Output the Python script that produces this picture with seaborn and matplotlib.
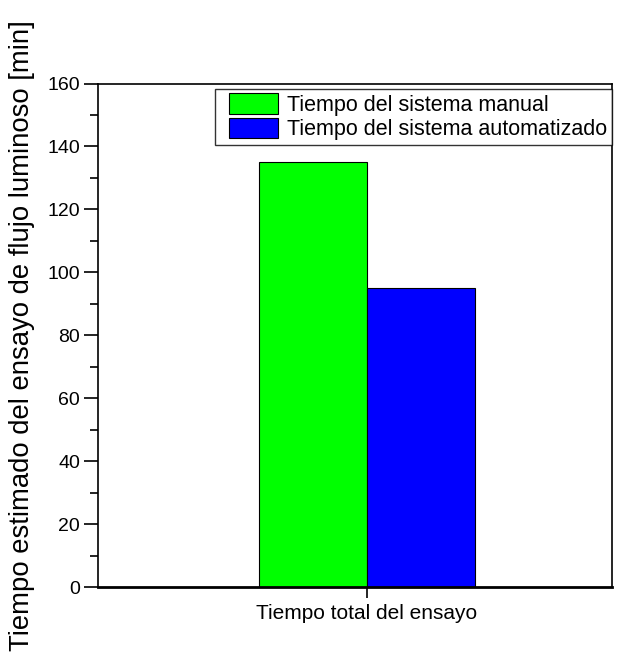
import matplotlib
matplotlib.use("Agg")
import matplotlib.pyplot as plt
import seaborn as sns
import pandas as pd
from matplotlib.ticker import MultipleLocator
from matplotlib.patches import Patch
from matplotlib.legend_handler import HandlerPatch

categoria = ["Tiempo total del ensayo"]
series = ["Tiempo del sistema manual", "Tiempo del sistema automatizado"]
valores = [135, 95]
colores = ["#00ff00", "#0000ff"]

df = pd.DataFrame({
    "categoria": categoria * len(series),
    "serie": series,
    "valor": valores,
})

sns.set_theme(style="white")
plt.rcParams["font.family"] = ["Liberation Sans", "DejaVu Sans"]
plt.rcParams["text.color"] = "black"
plt.rcParams["axes.labelcolor"] = "black"
plt.rcParams["xtick.color"] = "black"
plt.rcParams["ytick.color"] = "black"

fig = plt.figure(figsize=(6.33, 6.55), dpi=100)
ax = fig.add_axes([0.1548, 0.1038, 0.812, 0.7687])

sns.barplot(data=df, x="categoria", y="valor", hue="serie",
            palette=colores, edgecolor="black", linewidth=0.8,
            width=0.8, ax=ax, saturation=1)

ax.set_xlim(-0.996, 0.907)
ax.set_ylim(0, 160)
ax.yaxis.set_major_locator(MultipleLocator(20))
ax.yaxis.set_minor_locator(MultipleLocator(10))
ax.tick_params(axis="y", which="major", direction="out", length=10, width=1.2,
               labelsize=14, labelcolor="black", color="black", left=True, pad=3)
ax.tick_params(axis="y", which="minor", direction="out", length=6, width=1.2,
               color="black", left=True)
ax.tick_params(axis="x", which="major", direction="out", length=8, width=1.2,
               labelsize=15, labelcolor="black", color="black", bottom=True, pad=4)

for s in ax.spines.values():
    s.set_color("black")
    s.set_linewidth(1.2)
ax.spines["bottom"].set_linewidth(2)

ax.set_xlabel("")
ax.set_ylabel("Tiempo estimado del ensayo de flujo luminoso [min]", fontsize=19.8,
              color="black")
ax.yaxis.set_label_coords(-0.122, 0.5)

# legend swatches are inset from the frame's left edge
handles, labels = ax.get_legend_handles_labels()
leg = ax.legend(handles, labels, loc="upper left", bbox_to_anchor=(0.2276, 0.989),
                borderaxespad=0, fontsize=15.5, frameon=True, fancybox=False,
                edgecolor="black", handlelength=2.75, handleheight=1.07,
                handletextpad=0.4, labelspacing=0.1, borderpad=0.2, title=None,
                handler_map={Patch: HandlerPatch(xpad=0.47)})
leg.get_frame().set_linewidth(1.0)
for t in leg.get_texts():
    t.set_color("black")

fig.savefig("out.png", dpi=100)
